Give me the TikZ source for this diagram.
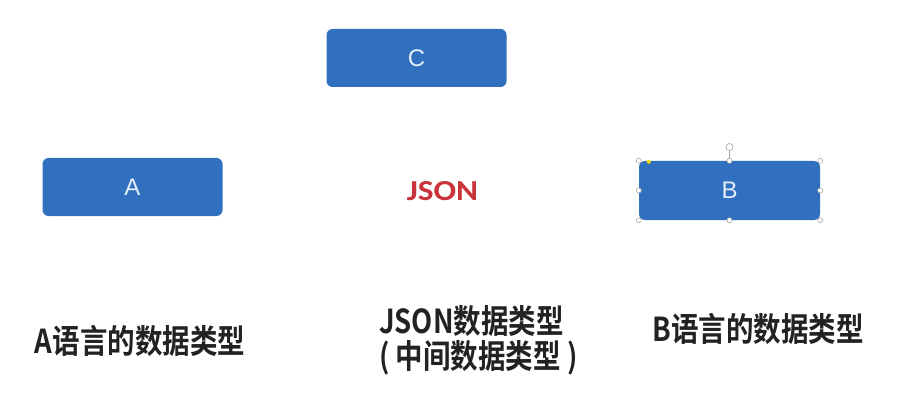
\documentclass[tikz,border=0pt]{standalone}
\usepackage{fontspec}
\setsansfont{Liberation Sans}
\newfontfamily\cjkb{Noto Sans CJK SC Bold}
\newfontfamily\carl{Carlito}
\definecolor{boxblue}{HTML}{3170BE}
\definecolor{boxtext}{HTML}{E2ECFA}
\definecolor{jsonred}{HTML}{C9333A}
\definecolor{labtext}{HTML}{222222}
\definecolor{handle}{HTML}{A8A8A8}
\newcommand{\tallt}[1]{\scalebox{1}[1.2]{#1}}
\begin{document}
\begin{tikzpicture}[x=1pt,y=-1pt,
  bluebox/.style={fill=boxblue, draw=none, rounded corners=6pt, minimum width=180pt, minimum height=58pt, inner sep=0pt, text=boxtext, font=\sffamily\fontsize{24}{26}\selectfont},
  lab/.style={text=labtext, font=\cjkb\fontsize{27.5}{30}\selectfont, inner sep=0pt},
  hdl/.style={circle, draw=handle, fill=white, line width=0.6pt, minimum size=5pt, inner sep=0pt}]
\useasboundingbox[fill=white] (0,0) rectangle (901,406);
\node[bluebox] (C) at (416.5,58) {C};
\node[bluebox] (A) at (132.5,187) {A};
\node[bluebox, minimum width=181pt, minimum height=59pt] (B) at (729.5,190.5) {B};
\node[text=jsonred, font=\carl\bfseries\fontsize{29}{32}\selectfont, inner sep=0pt] (J) at (442.5,191) {\scalebox{1.15}[1]{JSON}};
\node[lab] (LA) at (140,340.5) {\tallt{A语言的数据类型}};
\node[lab, anchor=west] (LJ) at (379,342.5) {\tallt{\begin{tabular}{@{}l@{}}JSON数据类型\\[-3.5pt]( 中间数据类型 )\end{tabular}}};
\node[lab] (LB) at (758,328.5) {\tallt{B语言的数据类型}};
% selection handles on B
\coordinate (R) at (729.5,147);
\draw[handle, line width=0.8pt] (B.north) -- ([yshift=4pt]R);
\node[hdl, minimum size=7pt] (Rh) at (R) {};
\foreach \p [count=\i] in {north west,north,north east,east,south east,south,south west,west}
  \node[hdl] (h\i) at (B.\p) {};
\node[circle, fill=yellow!80!orange, minimum size=4pt, inner sep=0pt] (adj) at ([xshift=10pt,yshift=-1pt]B.north west) {};
\end{tikzpicture}
\end{document}
